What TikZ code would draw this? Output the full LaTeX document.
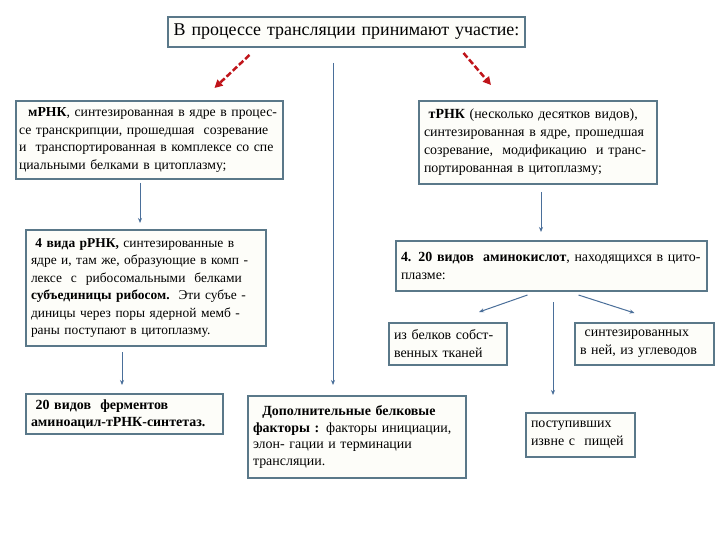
\documentclass[tikz,border=0pt]{standalone}
\usepackage{fontspec}
\setmainfont{Liberation Serif}
\usetikzlibrary{arrows.meta,calc}
\definecolor{boxline}{HTML}{5A7889}
\definecolor{boxfill}{HTML}{FDFDF9}
\definecolor{arrblue}{HTML}{4A6F9A}
\definecolor{arrred}{HTML}{C0141A}
\tikzset{
  box/.style={draw=boxline, line width=2bp, fill=boxfill, anchor=north west,
    inner xsep=5bp, inner ysep=2bp, align=left,
    font=\fontsize{14}{18}\selectfont},
  bluearr/.style={draw=arrblue, line width=1bp, -{Stealth[length=5bp,width=4bp]}},
  redarr/.style={draw=arrred, line width=2.5bp, dash pattern=on 6bp off 2.5bp,
    -{Triangle[length=8bp,width=8bp]}}
}
\begin{document}
\begin{tikzpicture}[x=1bp,y=-1bp]
\useasboundingbox[fill=white] (0,0) rectangle (720,540);
% boxes
\node[box, align=center, minimum width=357bp, minimum height=30bp, text width=347bp,
  font=\fontsize{18}{20}\selectfont] (title) at (167,16)
  {В процессе трансляции принимают участие:};
\node[box, minimum width=267bp, minimum height=78bp, text width=261bp, inner xsep=3bp,
  font=\fontsize{13.8}{18}\selectfont] (mrna) at (15,100)
  {\ \ \textbf{мРНК}, синтезированная в ядре в процес-\\
   се транскрипции, прошедшая\ \ созревание\\
   и\ \ транспортированная в комплексе со спе\\
   циальными белками в цитоплазму;};
\node[box, minimum width=238bp, minimum height=83bp, text width=228bp] (trna) at (418,100)
  {\ \textbf{тРНК} (несколько десятков видов),\\
   синтезированная в ядре, прошедшая\\
   созревание,\ \ модификацию\ \ и транс-\\
   портированная в цитоплазму;};
\node[box, minimum width=240bp, minimum height=116bp, text width=230bp,
  font=\fontsize{13.5}{17.5}\selectfont] (rrna) at (25,229)
  {\ \textbf{4 вида рРНК,} синтезированные в\\
   ядре и, там же, образующие в комп -\\
   лексе\ \ с\ \ рибосомальными\ \ белками\\
   \textbf{субъединицы рибосом.}\ \ Эти субъе -\\
   диницы через поры ядерной мемб -\\
   раны поступают в цитоплазму.};
\node[box, minimum width=311bp, minimum height=50bp, text width=301bp] (amino) at (395,240)
  {\textbf{4. 20 видов\ \ аминокислот}, находящихся в цито-\\
   плазме:};
\node[box, minimum width=118bp, minimum height=42bp, text width=108bp] (own) at (388,322)
  {из белков собст-\\венных тканей};
\node[box, minimum width=139bp, minimum height=42bp, text width=129bp] (carb) at (574,322)
  {\ синтезированных\\в ней, из углеводов};
\node[box, minimum width=197bp, minimum height=40bp, text width=187bp,
  font=\fontsize{14}{17}\selectfont] (enz) at (25,393)
  {\ \textbf{20 видов\ \ ферментов}\\\textbf{аминоацил-тРНК-синтетаз.}};
\node[box, minimum width=218bp, minimum height=82bp, text width=208bp,
  font=\fontsize{14}{17}\selectfont] (fact) at (247,395)
  {\ \ \textbf{Дополнительные белковые}\\
   \textbf{факторы :} факторы инициации,\\
   элон- гации и терминации\\
   трансляции.};
\node[box, minimum width=109bp, minimum height=44bp, text width=99bp] (food) at (525,412)
  {поступивших\\извне с\ \ пищей};
% red dashed arrows
\draw[redarr] ([xshift=-97bp,yshift=-7bp]title.south) -- ([xshift=65bp,yshift=12bp]mrna.north);
\draw[redarr] ([xshift=117bp,yshift=-5bp]title.south) -- ([xshift=-47bp,yshift=15bp]trna.north);
% blue arrows
\coordinate (cx) at (333,0);
\draw[bluearr, shorten <=15bp, shorten >=10bp] (title.south -| cx) -- (fact.north -| cx);
\coordinate (mx) at (140,0);
\draw[bluearr, shorten <=3bp, shorten >=6bp] (mrna.south -| mx) -- (rrna.north -| mx);
\coordinate (tx) at (541,0);
\draw[bluearr, shorten <=7bp, shorten >=8bp] (trna.south -| tx) -- (amino.north -| tx);
\coordinate (rx) at (122,0);
\draw[bluearr, shorten <=5bp, shorten >=8bp] (rrna.south -| rx) -- (enz.north -| rx);
\draw[bluearr] ([xshift=-24bp,yshift=-3bp]amino.south) -- ([xshift=31bp,yshift=10bp]own.north);
\draw[bluearr] ([xshift=27bp,yshift=-3bp]amino.south) -- ([xshift=-10bp,yshift=9bp]carb.north);
\coordinate (fx) at (553,0);
\draw[bluearr, shorten <=10bp, shorten >=17bp] (amino.south -| fx) -- (food.north -| fx);
\end{tikzpicture}
\end{document}
